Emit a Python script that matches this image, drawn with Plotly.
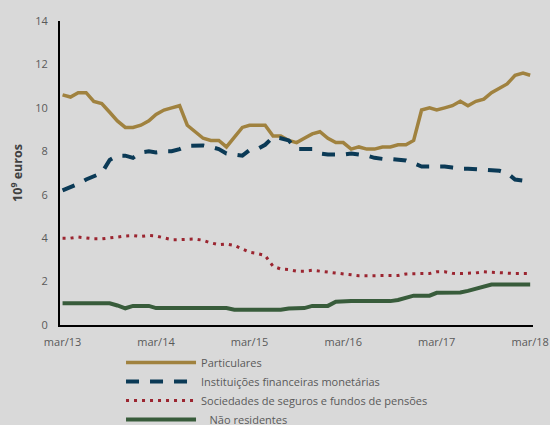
import pandas as pd
import plotly.graph_objects as go

months = pd.date_range("2013-03-01", "2018-03-01", freq="MS")

tick_vals = ["2013-03-01", "2014-03-01", "2015-03-01", "2016-03-01", "2017-03-01", "2018-03-01"]
tick_text = ["mar/13", "mar/14", "mar/15", "mar/16", "mar/17", "mar/18"]

particulares = [10.6, 10.5, 10.7, 10.7, 10.3, 10.2, 9.8, 9.4, 9.1, 9.1, 9.2, 9.4, 9.7, 9.9, 10.0, 10.1,
                9.2, 8.9, 8.6, 8.5, 8.5, 8.2, 8.65, 9.1, 9.2, 9.2, 9.2, 8.7, 8.7, 8.5, 8.4, 8.6, 8.8,
                8.9, 8.6, 8.4, 8.4, 8.1, 8.2, 8.1, 8.1, 8.2, 8.2, 8.3, 8.3, 8.5, 9.9, 10.0, 9.9,
                10.0, 10.1, 10.3, 10.1, 10.3, 10.4, 10.7, 10.9, 11.1, 11.5, 11.6, 11.5]

ifm = [6.2, 6.35, 6.5, 6.7, 6.85, 7.0, 7.6, 7.8, 7.8, 7.7, 7.95, 8.0, 7.95, 8.0, 8.0, 8.1,
       8.25, 8.27, 8.27, 8.2, 8.1, 7.9, 7.85, 7.8, 8.05, 8.1, 8.3, 8.65, 8.6, 8.5, 8.1, 8.1,
       8.1, 7.9, 7.85, 7.85, 7.85, 7.9, 7.85, 7.8, 7.7, 7.65, 7.65, 7.6, 7.58, 7.45, 7.3,
       7.3, 7.3, 7.3, 7.25, 7.2, 7.2, 7.18, 7.12, 7.1, 7.1, 7.0, 6.7, 6.65, 6.8]

seguros = [4.0, 4.0, 4.05, 4.0, 3.97, 3.97, 4.0, 4.05, 4.1, 4.12, 4.08, 4.12, 4.1, 4.0, 3.93,
           3.93, 3.96, 3.96, 3.9, 3.78, 3.7, 3.73, 3.66, 3.5, 3.35, 3.29, 3.2, 2.7, 2.58, 2.55,
           2.48, 2.48, 2.52, 2.48, 2.44, 2.37, 2.33, 2.3, 2.27, 2.27, 2.27, 2.27, 2.27, 2.28,
           2.35, 2.37, 2.37, 2.37, 2.45, 2.45, 2.38, 2.37, 2.37, 2.4, 2.45, 2.43, 2.38, 2.37,
           2.37, 2.37, 2.37]

nao_residentes = [1.0, 1.0, 1.0, 1.0, 1.0, 1.0, 1.0, 0.9, 0.77, 0.88, 0.88, 0.88, 0.78, 0.78,
                  0.78, 0.78, 0.78, 0.78, 0.78, 0.78, 0.78, 0.78, 0.7, 0.7, 0.7, 0.7, 0.7, 0.7,
                  0.7, 0.76, 0.78, 0.78, 0.88, 0.88, 0.88, 1.07, 1.1, 1.1, 1.1, 1.1, 1.1, 1.1,
                  1.1, 1.15, 1.25, 1.35, 1.35, 1.35, 1.48, 1.5, 1.5, 1.5, 1.57, 1.67, 1.77, 1.86,
                  1.87, 1.87, 1.87, 1.87, 1.87]

names = ["Particulares", "Instituições financeiras monetárias",
         "Sociedades de seguros e fundos de pensões", "\u00a0\u00a0\u00a0Não residentes"]

fig = go.Figure()
fig.add_trace(go.Scatter(x=months, y=particulares, mode="lines", name=names[0],
                         line=dict(color="#A0823F", width=3.5)))
fig.add_trace(go.Scatter(x=months, y=ifm, mode="lines", name=names[1],
                         line=dict(color="#0B3A56", width=4, dash="13px,11px")))
fig.add_trace(go.Scatter(x=months, y=seguros, mode="lines", name=names[2],
                         line=dict(color="#9B2530", width=3, dash="3px,5px")))
fig.add_trace(go.Scatter(x=months, y=nao_residentes, mode="lines", name=names[3],
                         line=dict(color="#385C3B", width=4)))

bg = "#D9D9D9"
fig.update_layout(
    width=550, height=425,
    paper_bgcolor=bg, plot_bgcolor=bg,
    margin=dict(l=60, r=17, t=21, b=100, autoexpand=False),
    font=dict(family="Open Sans, Liberation Sans, sans-serif", size=11, color="#595959"),
    showlegend=True,
    legend=dict(x=0.129, y=-0.0755, xanchor="left", yanchor="top",
                bgcolor="rgba(0,0,0,0)", itemwidth=70, tracegroupgap=0,
                font=dict(size=11, color="#595959")),
    xaxis=dict(range=["2013-02-19", "2018-03-12"], tickvals=tick_vals, ticktext=tick_text,
               showgrid=False, zeroline=False, showline=True, linecolor="#000000", linewidth=2,
               ticks="", ticklabelstandoff=6, tickfont=dict(size=11, color="#595959")),
    yaxis=dict(range=[0, 14], dtick=2, showgrid=False, zeroline=False, showline=True,
               linecolor="#000000", linewidth=2, ticks="", ticklabelstandoff=8,
               tickfont=dict(size=11, color="#595959"),
               title=dict(text="<b>10<sup>9</sup> euros</b>", standoff=10,
                          font=dict(size=12.5, color="#404040"))),
)

fig.write_html("out.html", config={"displayModeBar": False},
               post_script="document.body.style.margin='0';document.body.style.padding='0';"
                           "document.body.style.overflow='hidden';")
